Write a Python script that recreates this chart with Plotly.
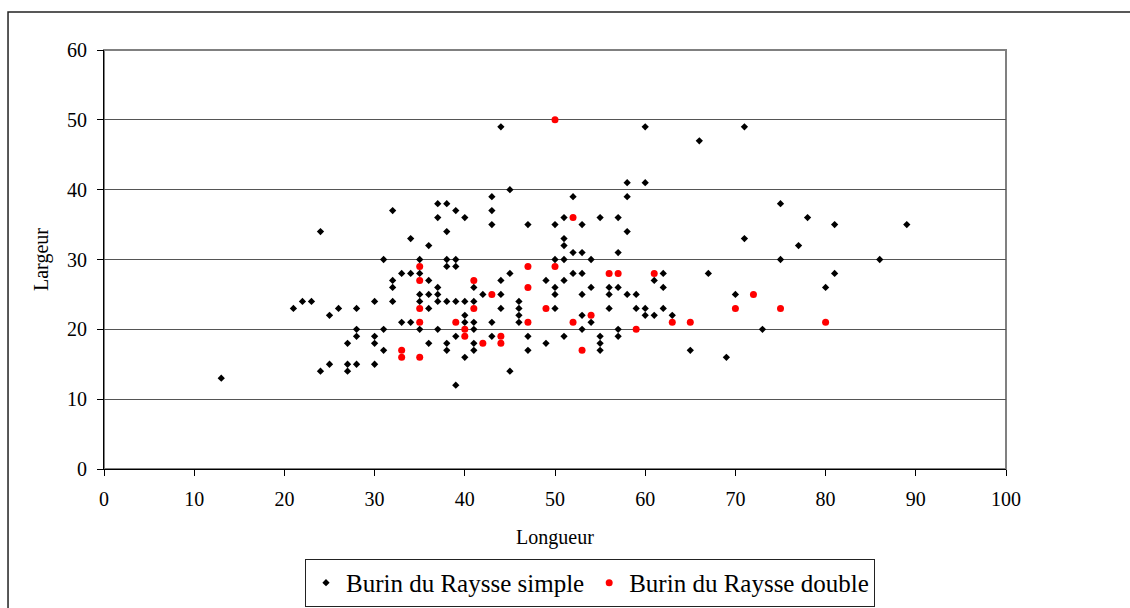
import plotly.graph_objects as go

# Burin du Raysse simple: (longueur, largeur)
simple_longueur = [
    32, 24, 34, 31, 33, 34, 32, 32, 32, 30, 28, 26, 25, 23, 22, 21, 33, 34, 31, 28,
    28, 30, 30, 27, 31, 30, 28, 27, 27, 25, 24, 13,
    44, 45, 43, 43, 37, 38, 39, 37, 40, 38, 43, 47, 50, 36,
    35, 38, 39, 50, 38, 39, 35, 45, 36, 44, 49, 41, 37, 50, 35, 36, 37, 42, 44, 50,
    35, 37, 38, 39, 40, 41, 46, 36, 44, 46, 50, 40, 46, 40, 41, 43, 46, 35, 37, 41,
    39, 43, 47, 36, 38, 41, 49, 38, 41, 47, 40, 45, 39,
    60, 66, 58, 60, 58, 52, 51, 55, 57, 53, 58, 51, 51,
    52, 53, 57, 51, 54, 52, 53, 62, 51, 61, 54, 56, 57, 62, 53, 56, 58, 59, 56, 59,
    60, 62, 53, 60, 61, 63, 54, 53, 57, 51, 57, 55, 55, 55, 65,
    71, 75, 78, 81, 89, 71, 77, 75, 86, 67, 81, 80, 70, 73, 69,
]
simple_largeur = [
    37, 34, 33, 30, 28, 28, 27, 26, 24, 24, 23, 23, 22, 24, 24, 23, 21, 21, 20, 20,
    19, 19, 18, 18, 17, 15, 15, 15, 14, 15, 14, 13,
    49, 40, 39, 37, 38, 38, 37, 36, 36, 34, 35, 35, 35, 32,
    30, 30, 30, 30, 29, 29, 28, 28, 27, 27, 27, 26, 26, 26, 25, 25, 25, 25, 25, 25,
    24, 24, 24, 24, 24, 24, 24, 23, 23, 23, 23, 22, 22, 21, 21, 21, 21, 20, 20, 20,
    19, 19, 19, 18, 18, 18, 18, 17, 17, 17, 16, 14, 12,
    49, 47, 41, 41, 39, 39, 36, 36, 36, 35, 34, 33, 32,
    31, 31, 31, 30, 30, 28, 28, 28, 27, 27, 26, 26, 26, 26, 25, 25, 25, 25, 23, 23,
    23, 23, 22, 22, 22, 22, 21, 20, 20, 19, 19, 19, 18, 17, 17,
    49, 38, 36, 35, 35, 33, 32, 30, 30, 28, 28, 26, 25, 20, 16,
]

# Burin du Raysse double: (longueur, largeur)
double_longueur = [
    33, 33, 50, 35, 47, 50, 35, 41, 47, 43, 35, 41, 49, 35, 39, 47, 40, 40, 44, 42,
    44, 35, 52, 56, 57, 61, 54, 52, 63, 65, 59, 53, 72, 70, 75, 80,
]
double_largeur = [
    17, 16, 50, 29, 29, 29, 27, 27, 26, 25, 23, 23, 23, 21, 21, 21, 20, 19, 19, 18,
    18, 16, 36, 28, 28, 28, 22, 21, 21, 21, 20, 17, 25, 23, 23, 21,
]

x_ticks = [0, 10, 20, 30, 40, 50, 60, 70, 80, 90, 100]
y_ticks = [0, 10, 20, 30, 40, 50, 60]

FONT = "Liberation Serif, Times New Roman, serif"

fig = go.Figure()
fig.add_trace(go.Scatter(
    x=simple_longueur, y=simple_largeur, mode="markers",
    name="Burin du Raysse simple",
    marker=dict(symbol="diamond", size=5.6, color="black"),
))
fig.add_trace(go.Scatter(
    x=double_longueur, y=double_largeur, mode="markers",
    name="Burin du Raysse double",
    marker=dict(symbol="circle", size=7, color="#ff0000"),
))

axis_common = dict(
    ticks="outside", ticklen=6, tickcolor="black", tickwidth=1,
    showline=True, linecolor="black", linewidth=1,
    zeroline=False, automargin=False, ticklabelstandoff=6,
    tickfont=dict(family=FONT, size=20, color="black"),
)

fig.update_xaxes(
    range=[0, 100], tickvals=x_ticks, showgrid=False,
    title=dict(text="Longueur", font=dict(family=FONT, size=20, color="black"), standoff=20),
    **axis_common,
)
fig.update_yaxes(
    range=[0, 60], tickvals=y_ticks, showgrid=True, gridcolor="#555555", gridwidth=1,
    title=dict(text="Largeur", font=dict(family=FONT, size=20, color="black"), standoff=13),
    **axis_common,
)

# plot-area frame and outer chart frame
fig.add_shape(type="rect", xref="paper", yref="paper", x0=0, x1=1, y0=0, y1=1,
              line=dict(color="#808080", width=2), layer="below")
fig.add_shape(type="rect", xref="paper", yref="paper", x0=-0.1064, x1=1.5, y0=-1.0, y1=1.0907,
              line=dict(color="#222222", width=1.5), layer="below")

fig.update_layout(
    width=1130, height=608,
    margin=dict(l=104, r=124, t=50, b=139, pad=0, autoexpand=False),
    paper_bgcolor="white", plot_bgcolor="white",
    font=dict(family=FONT, color="black"),
    showlegend=True,
    legend=dict(
        orientation="h", x=0.5388, xanchor="center", y=-0.2145, yanchor="top",
        bordercolor="#222222", borderwidth=1, bgcolor="white",
        font=dict(family=FONT, size=25, color="black"),
        itemwidth=30, tracegroupgap=0,
    ),
)

fig.write_html("out.html")
